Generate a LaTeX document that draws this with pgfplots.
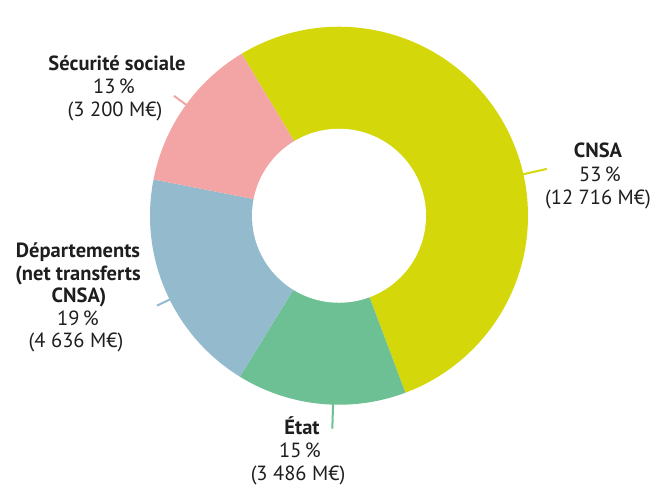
\documentclass[border=0pt]{standalone}
\usepackage{fontspec}
\setmainfont{PT Sans}
\usepackage{pgfplots}
\pgfplotsset{compat=1.18}

\definecolor{cnsa}{HTML}{D4D80B}
\definecolor{etat}{HTML}{6DBF94}
\definecolor{dep}{HTML}{94BACE}
\definecolor{secu}{HTML}{F3A5A5}
\definecolor{txt}{HTML}{1E1E1E}

% one line of label text, placed on its baseline (pixel coords, y from top)
\newcommand{\lbl}[3]{\node[anchor=base,inner sep=0pt,text=txt,
  font=\fontsize{20.5}{24}\selectfont] at (axis cs:#1,482-#2) {#3};}

\begin{document}
\begin{tikzpicture}
\begin{axis}[
  hide axis, scale only axis,
  width=653pt, height=482pt,
  xmin=0, xmax=653, ymin=0, ymax=482,
  clip=false,
]
\pgfplotsextra{
  \path (axis cs:0,0) rectangle (axis cs:653,482);
  \path (axis cs:339,272) coordinate (C);
  % pointer ticks
  \foreach \ang/\r/\c in {12.7/213pt/cnsa, 144/204pt/secu, 206.3/203pt/dep, 268.2/213pt/etat}{
    \draw[\c, line width=2pt] (C) ++(\ang:180pt) -- ([shift={(\ang:\r)}]C);
  }
  % slices, clockwise from 121 deg; total = 24038 M EUR (divide in steps, pgfmath max 16383)
  \xdef\acc{121}
  \foreach \v/\c in {12716/cnsa, 3486/etat, 4636/dep, 3200/secu}{
    \pgfmathsetmacro{\sa}{\acc}
    \pgfmathsetmacro{\sb}{\acc-\v/24.038*0.36}
    \fill[\c] (C) -- ++(\sa:189pt) arc[start angle=\sa, end angle=\sb, radius=189pt] -- cycle;
    \xdef\acc{\sb}
  }
  \fill[white] (C) circle[radius=87pt];
  % labels
  \lbl{598}{152}{\bfseries CNSA}
  \lbl{600}{176}{53\,\%}
  \lbl{598}{199}{(12~716 M€)}
  \lbl{117}{65}{\bfseries Sécurité sociale}
  \lbl{114}{88}{13\,\%}
  \lbl{115}{111}{(3~200 M€)}
  \lbl{78}{252}{\bfseries Départements}
  \lbl{78}{275}{\bfseries (net transferts}
  \lbl{79}{297}{\bfseries CNSA)}
  \lbl{78}{320}{19\,\%}
  \lbl{76}{342}{(4~636 M€)}
  \lbl{302}{429}{\bfseries État}
  \lbl{300}{452}{15\,\%}
  \lbl{298}{475}{(3~486 M€)}
}
\end{axis}
\end{tikzpicture}
\end{document}
